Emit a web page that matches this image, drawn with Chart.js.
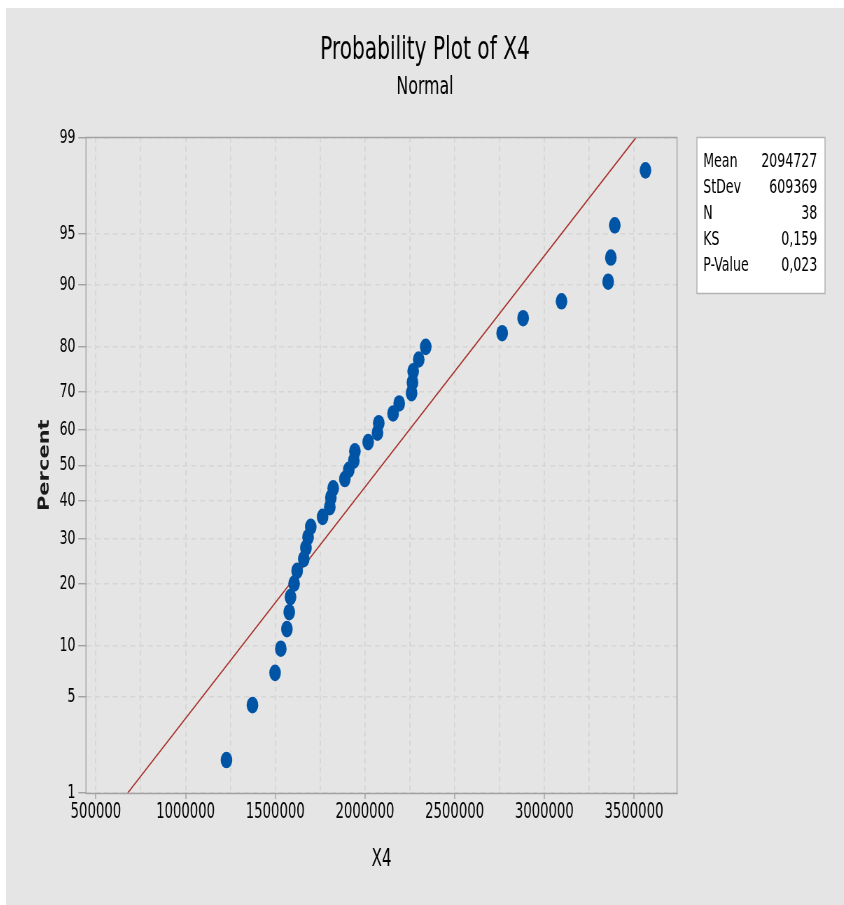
<!DOCTYPE html>
<html>
<head>
<meta charset="utf-8">
<script src="https://cdn.jsdelivr.net/npm/chart.js@4/dist/chart.umd.min.js"></script>
<style>
  body { margin: 0; background: #ffffff; }
  #panel { position: absolute; left: 6px; top: 8px; width: 838px; height: 897px; background: #e5e5e5; overflow: hidden; }
  /* the source picture is squeezed sideways, so the chart is drawn wide and narrowed */
  #squeeze { width: 1197px; height: 897px; transform: scaleX(0.7); transform-origin: 0 0; }
</style>
</head>
<body>
<div id="panel"><div id="squeeze"><canvas id="probPlot" width="1197" height="897"></canvas></div></div>
<script>
// values (X4, sorted) and their plotting positions in percent
const x4Values = [1228000, 1373000, 1499000, 1531000, 1565000, 1578000, 1585000, 1605000, 1622000, 1659000,
  1671000, 1683000, 1698000, 1764000, 1804000, 1810000, 1823000, 1888000, 1910000, 1938000,
  1944000, 2018000, 2070000, 2077000, 2157000, 2191000, 2260000, 2265000, 2269000, 2300000,
  2339000, 2765000, 2882000, 3096000, 3356000, 3371000, 3393000, 3564000];
const percentValues = [1.82, 4.43, 7.03, 9.64, 12.24, 14.84, 17.45, 20.05, 22.66, 25.26,
  27.86, 30.47, 33.07, 35.68, 38.28, 40.89, 43.49, 46.09, 48.70, 51.30,
  53.91, 56.51, 59.11, 61.72, 64.32, 66.93, 69.53, 72.14, 74.74, 77.34,
  79.95, 82.55, 85.16, 87.76, 90.36, 92.97, 95.57, 98.18];

// fitted normal line, ends at 1% and 99%
const fitLineX = [677300, 3512100];
const fitLinePercent = [1, 99];

const xTickValues = [500000, 750000, 1000000, 1250000, 1500000, 1750000, 2000000,
  2250000, 2500000, 2750000, 3000000, 3250000, 3500000];
const yTickLabels = [1, 5, 10, 20, 30, 40, 50, 60, 70, 80, 90, 95, 99];

const statLabels = ["Mean", "StDev", "N", "KS", "P-Value"];
const statValues = ["2094727", "609369", "38", "0,159", "0,023"];

const textFont = "'DejaVu Sans Condensed', 'DejaVu Sans', sans-serif";

// inverse normal cdf (Acklam), used to place percents on the probability axis
function probit(p) {
  const a = [-39.69683028665376, 220.9460984245205, -275.9285104469687, 138.3577518672690, -30.66479806614716, 2.506628277459239];
  const b = [-54.47609879822406, 161.5858368580409, -155.6989798598866, 66.80131188771972, -13.28068155288572];
  const c = [-0.007784894002430293, -0.3223964580411365, -2.400758277161838, -2.549671625135351, 4.374664141464968, 2.938163982698783];
  const d = [0.007784695709041462, 0.3224671290700398, 2.445134137142996, 3.754408661907416];
  const pLow = 0.02425;
  let q, r;
  if (p < pLow) {
    q = Math.sqrt(-2 * Math.log(p));
    return (((((c[0] * q + c[1]) * q + c[2]) * q + c[3]) * q + c[4]) * q + c[5]) /
      ((((d[0] * q + d[1]) * q + d[2]) * q + d[3]) * q + 1);
  }
  if (p > 1 - pLow) {
    q = Math.sqrt(-2 * Math.log(1 - p));
    return -(((((c[0] * q + c[1]) * q + c[2]) * q + c[3]) * q + c[4]) * q + c[5]) /
      ((((d[0] * q + d[1]) * q + d[2]) * q + d[3]) * q + 1);
  }
  q = p - 0.5;
  r = q * q;
  return (((((a[0] * r + a[1]) * r + a[2]) * r + a[3]) * r + a[4]) * r + a[5]) * q /
    (((((b[0] * r + b[1]) * r + b[2]) * r + b[3]) * r + b[4]) * r + 1);
}

const statsBox = {
  id: "statsBox",
  afterDraw(chart) {
    const ctx = chart.ctx;
    const area = chart.chartArea;
    ctx.save();
    ctx.strokeStyle = "#a3a3a3";
    ctx.lineWidth = 1.5;
    ctx.strokeRect(area.left, Math.round(area.top) + 0.5, area.right - area.left, Math.round(area.bottom - area.top));

    const bx = 987, by = 129, bw = 183, bh = 156;
    ctx.fillStyle = "#ffffff";
    ctx.fillRect(bx, by, bw, bh);
    ctx.strokeStyle = "#b3b3b3";
    ctx.lineWidth = 1.5;
    ctx.strokeRect(bx, by + 0.5, bw, bh);
    ctx.fillStyle = "#000000";
    ctx.font = "20px " + textFont;
    ctx.textBaseline = "middle";
    statLabels.forEach(function (label, i) {
      const y = by + 25 + i * 26;
      ctx.textAlign = "left";
      ctx.fillText(label, bx + 9, y);
      ctx.textAlign = "right";
      ctx.fillText(statValues[i], bx + bw - 11, y);
    });
    ctx.restore();
  },
};

const ctx = document.getElementById("probPlot").getContext("2d");

new Chart(ctx, {
  type: "scatter",
  data: {
    datasets: [
      {
        label: "X4",
        data: x4Values.map((v, i) => ({ x: v, y: probit(percentValues[i] / 100) })),
        backgroundColor: "#0054a6",
        borderWidth: 0,
        pointRadius: 8.3,
      },
      {
        label: "Fit",
        data: fitLineX.map((v, i) => ({ x: v, y: probit(fitLinePercent[i] / 100) })),
        showLine: true,
        borderColor: "#a8322d",
        borderWidth: 1.6,
        pointRadius: 0,
      },
    ],
  },
  options: {
    responsive: false,
    animation: false,
    layout: { padding: { left: 0, right: 0, top: 0, bottom: 12 } },
    plugins: {
      legend: { display: false },
      tooltip: { enabled: false },
      title: {
        display: true,
        text: "Probability Plot of X4",
        color: "#000000",
        font: { family: textFont, size: 32, weight: "normal" },
        padding: { top: 23, bottom: 0 },
      },
      subtitle: {
        display: true,
        text: "Normal",
        color: "#000000",
        font: { family: textFont, size: 25, weight: "normal" },
        padding: { top: 3, bottom: 35 },
      },
    },
    scales: {
      x: {
        type: "linear",
        min: 445000,
        max: 3740000,
        afterFit: (scale) => { scale.height = 100; },
        afterBuildTicks: (scale) => {
          scale.ticks = xTickValues.map((v) => ({ value: v }));
        },
        ticks: {
          autoSkip: false,
          maxRotation: 0,
          padding: 1,
          color: "#000000",
          font: { family: textFont, size: 21 },
          callback: (v) => (v % 500000 === 0 ? String(v) : ""),
        },
        grid: {
          color: "#d6d6d6",
          lineWidth: 2,
          tickLength: 6,
          tickWidth: 1.5,
          tickColor: (c) => (c.tick && c.tick.value % 500000 === 0 ? "#a0a0a0" : "rgba(0,0,0,0)"),
        },
        border: { color: "#a3a3a3", dash: [5, 4] },
        title: {
          display: true,
          text: "X4",
          color: "#000000",
          font: { family: textFont, size: 24 },
          padding: { bottom: 19 },
        },
      },
      y: {
        type: "linear",
        min: probit(0.01),
        max: probit(0.99),
        afterFit: (scale) => { scale.width = 114.3; },
        afterBuildTicks: (scale) => {
          scale.ticks = yTickLabels.map((p) => ({ value: probit(p / 100) }));
        },
        ticks: {
          autoSkip: false,
          padding: 4,
          color: "#000000",
          font: { family: textFont, size: 20 },
          callback: (v, i) => String(yTickLabels[i]),
        },
        grid: { color: "#d6d6d6", lineWidth: 1.4, tickLength: 11, tickColor: "#a0a0a0" },
        border: { color: "#a3a3a3", dash: [7, 5.5] },
        title: {
          display: true,
          text: "Percent",
          color: "#1a1a1a",
          font: { family: "'DejaVu Sans', sans-serif", size: 21, weight: "bold" },
          padding: { top: 43 },
        },
      },
      // empty right axis that keeps room for the stats box
      side: {
        type: "linear",
        position: "right",
        min: 0,
        max: 1,
        afterFit: (scale) => { scale.width = 238.4; },
        ticks: { display: false },
        grid: { display: false },
        border: { display: false },
      },
    },
  },
  plugins: [statsBox],
});
</script>
</body>
</html>
